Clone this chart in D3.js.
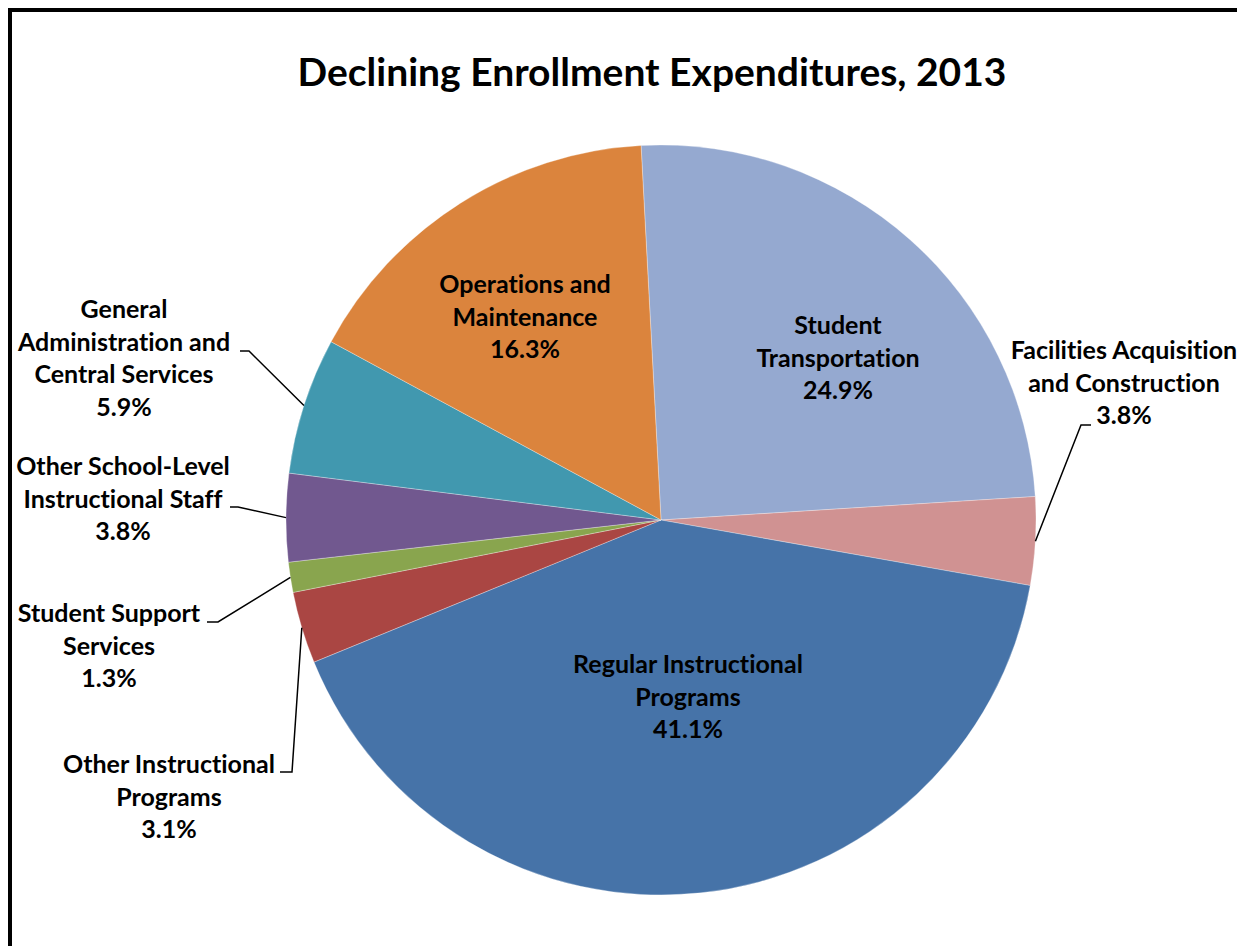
<!DOCTYPE html>
<html>
<head>
<meta charset="utf-8">
<script src="https://cdnjs.cloudflare.com/ajax/libs/d3/7.8.5/d3.min.js"></script>
<style>
  body { margin: 0; background: #fff; overflow: hidden; }
  text { font-family: Lato, "Open Sans", sans-serif; font-weight: bold; fill: #000;
         font-variant-ligatures: none; }
</style>
</head>
<body>
<div id="chart"></div>
<script>
// slices in clockwise order, starting just left of 12 o'clock
var categories = ["Student Transportation", "Facilities Acquisition and Construction",
  "Regular Instructional Programs", "Other Instructional Programs", "Student Support Services",
  "Other School-Level Instructional Staff", "General Administration and Central Services",
  "Operations and Maintenance"];
var shares = [24.9, 3.8, 41.1, 3.1, 1.3, 3.8, 5.9, 16.3];
var labelLines = [
  ["Student", "Transportation"],
  ["Facilities Acquisition", "and Construction"],
  ["Regular Instructional", "Programs"],
  ["Other Instructional", "Programs"],
  ["Student Support", "Services"],
  ["Other School-Level", "Instructional Staff"],
  ["General", "Administration and", "Central Services"],
  ["Operations and", "Maintenance"]
];
var colors = ["#95A9D0", "#D09292", "#4673A8", "#AA4643", "#89A54E", "#71588F", "#4198AF", "#DB843D"];

// label placement (x centre, first baseline) and leader elbows, no elbow = inside slice
var labelPos = [
  { x: 838, y: 334 },
  { x: 1124, y: 359, elbow: [1081, 425], end: 1091 },
  { x: 688, y: 673 },
  { x: 169, y: 773, elbow: [292, 772], end: 280 },
  { x: 109, y: 622, elbow: [218, 622], end: 207 },
  { x: 123, y: 475, elbow: [238, 507], end: 230 },
  { x: 124, y: 318, elbow: [249, 351], end: 240 },
  { x: 525, y: 293 }
];

var width = 1237, height = 946;
var cx = 661, cy = 520, R = 375;
var lineH = 32.5;

var svg = d3.select('#chart').append('svg')
    .attr('width', width)
    .attr('height', height);

// chart area border (right and bottom run off the picture)
svg.append('rect')
  .attr('x', 10).attr('y', 10)
  .attr('width', 1300).attr('height', 1000)
  .attr('fill', 'none')
  .attr('stroke', '#000')
  .attr('stroke-width', 4);

svg.append('text')
  .attr('x', 652).attr('y', 86)
  .attr('text-anchor', 'middle')
  .style('font-size', '39px')
  .text('Declining Enrollment Expenditures, 2013');

var data = categories.map(function(c, i) {
  return { name: c, value: shares[i], lines: labelLines[i], color: colors[i], pos: labelPos[i] };
});

var a0 = -3.05 * Math.PI / 180;
var pie = d3.pie().sort(null).value(function(d) { return d.value; })
    .startAngle(a0).endAngle(a0 + 2 * Math.PI);
var arcs = pie(data);

var arc = d3.arc().innerRadius(0).outerRadius(R);
var edge = d3.arc().innerRadius(R).outerRadius(R);

var g = svg.append('g').attr('transform', 'translate(' + cx + ',' + cy + ')');

g.selectAll('path.slice')
  .data(arcs)
  .enter().append('path')
    .attr('class', 'slice')
    .attr('d', arc)
    .attr('fill', function(d) { return d.data.color; })
    .attr('stroke', 'rgba(255,255,255,0.3)')
    .attr('stroke-width', 1);

// leader lines for the outside labels
arcs.forEach(function(d) {
  var p = d.data.pos;
  if (!p.elbow) return;
  var s = edge.centroid(d);
  var pts = [[cx + s[0], cy + s[1]], p.elbow, [p.end, p.elbow[1]]];
  svg.append('path')
    .attr('d', d3.line()(pts))
    .attr('fill', 'none')
    .attr('stroke', '#000')
    .attr('stroke-width', 1.5);
});

arcs.forEach(function(d) {
  var p = d.data.pos;
  var lines = d.data.lines.concat([d3.format('.1f')(d.data.value) + '%']);
  var t = svg.append('text')
    .attr('text-anchor', 'middle')
    .style('font-size', '25px');
  lines.forEach(function(l, i) {
    t.append('tspan')
      .attr('x', p.x)
      .attr('y', p.y + i * lineH)
      .text(l);
  });
});
</script>
</body>
</html>
